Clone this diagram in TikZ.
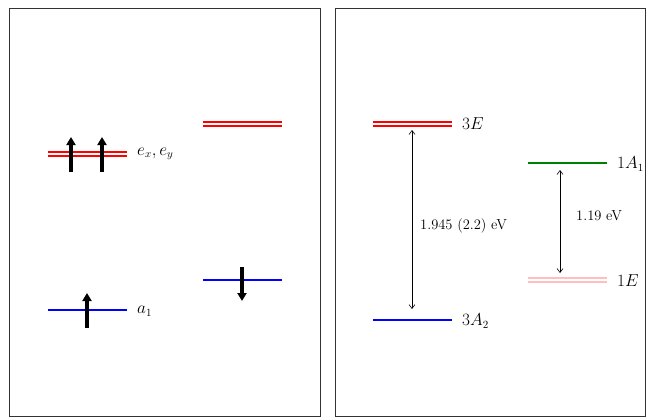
\documentclass[tikz,border=0pt]{standalone}
\usetikzlibrary{arrows.meta}
\begin{document}
\begin{tikzpicture}[x=1pt,y=-1pt,
  frame/.style={draw=black!80,line width=0.8pt},
  lvl/.style={line width=1.3pt},
  spin/.style={line width=3.2pt,-{Triangle[length=8pt,width=9pt]}},
  gap/.style={line width=0.6pt,{Straight Barb[length=4pt,width=6pt]}-{Straight Barb[length=4pt,width=6pt]}},
  lab/.style={anchor=west,font=\fontsize{16}{18}\selectfont,inner sep=0pt},
  vlab/.style={anchor=west,font=\fontsize{14.5}{16}\selectfont,inner sep=0pt}]
\useasboundingbox (0,0) rectangle (654,418);
\draw[frame] (9,8) rectangle (320,416);
\draw[frame] (335,8) rectangle (645,416);
% left panel
\draw[red,lvl] (48,152) -- (127,152);
\draw[red,lvl] (48,156) -- (127,156);
\node[lab] (exlab) at (137,154) {$e_x,e_y$};
\coordinate (u1a) at (71,172); \coordinate (u1b) at (71,137);
\coordinate (u2a) at (102,172); \coordinate (u2b) at (102,137);
\draw[spin] (u1a) -- (u1b);
\draw[spin] (u2a) -- (u2b);
\draw[red,lvl] (203,122) -- (282,122);
\draw[red,lvl] (203,126) -- (282,126);
\draw[blue,lvl] (48,310) -- (127,310);
\node[lab] (a1lab) at (137,311) {$a_1$};
\coordinate (u3a) at (87,328); \coordinate (u3b) at (87,293);
\draw[spin] (u3a) -- (u3b);
\draw[blue,lvl] (203,280) -- (282,280);
\coordinate (d1a) at (242,267); \coordinate (d1b) at (242,301);
\draw[spin] (d1a) -- (d1b);
% right panel
\draw[red,lvl] (373,122) -- (452,122);
\draw[red,lvl] (373,126) -- (452,126);
\node[lab] (E3) at (462,124) {$3E$};
\draw[blue,lvl] (373,320) -- (452,320);
\node[lab] (A23) at (462,321) {$3A_2$};
\coordinate (g1a) at (412,130); \coordinate (g1b) at (412,309);
\draw[gap] (g1a) -- (g1b);
\node[vlab] (g1lab) at (420,226) {1.945 (2.2) eV};
\draw[green!50!black,lvl] (528,163) -- (607,163);
\node[lab] (A11) at (617,164) {$1A_1$};
\draw[pink,lvl] (528,278) -- (607,278);
\draw[pink,lvl] (528,282) -- (607,282);
\node[lab] (E1) at (617,281) {$1E$};
\coordinate (g2a) at (560,170); \coordinate (g2b) at (560,273);
\draw[gap] (g2a) -- (g2b);
\node[vlab] (g2lab) at (576,216) {1.19 eV};
\end{tikzpicture}
\end{document}
